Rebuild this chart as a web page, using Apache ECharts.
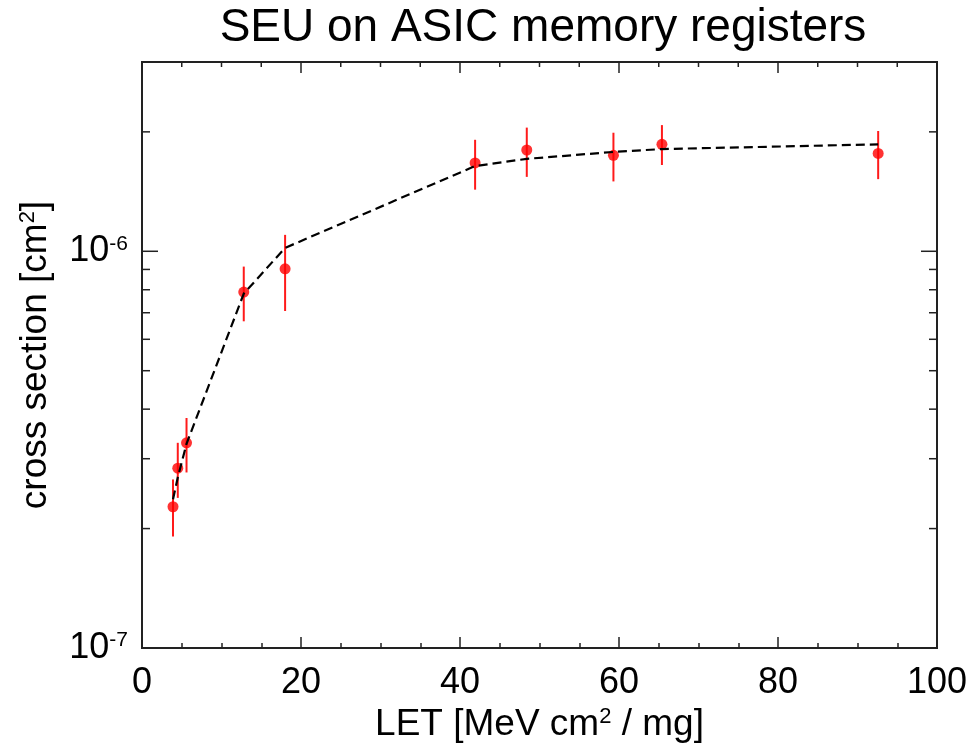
<!DOCTYPE html>
<html>
<head>
<meta charset="utf-8">
<script src="https://cdn.jsdelivr.net/npm/echarts@6/dist/echarts.min.js"></script>
<style>
  html, body { margin: 0; padding: 0; background: #fff; }
  #main { width: 971px; height: 746px; }
</style>
</head>
<body>
<div id="main"></div>
<script>
// LET values of the beam runs [MeV cm2 / mg]
const letVals = [3.9, 4.5, 5.6, 12.8, 18.0, 41.9, 48.4, 59.3, 65.4, 92.6];
// measured cross sections [cm2]
const xsec = [2.27e-7, 2.84e-7, 3.29e-7, 7.89e-7, 9.03e-7, 1.67e-6, 1.80e-6, 1.745e-6, 1.86e-6, 1.765e-6];
// error bar ends
const errLow = [1.91e-7, 2.39e-7, 2.77e-7, 6.66e-7, 7.07e-7, 1.43e-6, 1.54e-6, 1.50e-6, 1.65e-6, 1.52e-6];
const errHigh = [2.66e-7, 3.29e-7, 3.80e-7, 9.15e-7, 1.10e-6, 1.91e-6, 2.05e-6, 1.99e-6, 2.08e-6, 2.01e-6];
// fit evaluated at the same LET values (dashed curve)
const fitVals = [2.37e-7, 2.69e-7, 3.27e-7, 7.82e-7, 1.02e-6, 1.64e-6, 1.71e-6, 1.78e-6, 1.81e-6, 1.86e-6];
// ticks of the log axis
const majorY = [1e-7, 1e-6];
const minorY = [2e-7, 3e-7, 4e-7, 5e-7, 6e-7, 7e-7, 8e-7, 9e-7, 2e-6, 3e-6];
// ticks mirrored on the top frame
const majorX = [0, 20, 40, 60, 80, 100];
const minorX = [5, 10, 15, 25, 30, 35, 45, 50, 55, 65, 70, 75, 85, 90, 95];

const font = '"Liberation Sans", Arial, Helvetica, sans-serif';
const axisCol = '#222';

const chart = echarts.init(document.getElementById('main'));

function logLabel(v) {
  const e = Math.round(Math.log10(v));
  if (Math.abs(v - Math.pow(10, e)) / v > 1e-6) return '';
  return '10{s|' + e + '}';
}

// y ticks inside left and right frame, placed through the log scale
function yTickSeries(vals, len) {
  return {
    type: 'custom', silent: true, z: 5,
    data: vals.map(v => [50, v]),
    renderItem: function (params, api) {
      const y = api.coord([50, api.value(1)])[1];
      const x0 = params.coordSys.x;
      const x1 = params.coordSys.x + params.coordSys.width;
      const st = { stroke: axisCol, lineWidth: 1.5 };
      return {
        type: 'group',
        children: [
          { type: 'line', shape: { x1: x0, y1: y, x2: x0 + len, y2: y }, style: st },
          { type: 'line', shape: { x1: x1 - len, y1: y, x2: x1, y2: y }, style: st }
        ]
      };
    }
  };
}
// x ticks inside the top frame
function xTopTickSeries(vals, len) {
  return {
    type: 'custom', silent: true, z: 5,
    data: vals.map(v => [v, 1e-6]),
    renderItem: function (params, api) {
      const x = api.coord([api.value(0), 1e-6])[0];
      const y0 = params.coordSys.y;
      return {
        type: 'line',
        shape: { x1: x, y1: y0, x2: x, y2: y0 + len },
        style: { stroke: axisCol, lineWidth: 1.5 }
      };
    }
  };
}

const option = {
  animation: false,
  backgroundColor: '#fff',
  title: {
    text: 'SEU on ASIC memory registers',
    left: 538, top: 0, textAlign: 'center',
    textStyle: { fontFamily: font, fontSize: 46, fontWeight: 'normal', color: '#000' }
  },
  grid: {
    left: 142, right: 34, top: 62, bottom: 98, outerBoundsMode: 'none',
    show: true, borderColor: axisCol, borderWidth: 2, backgroundColor: 'transparent'
  },
  xAxis: {
    type: 'value', min: 0, max: 100, interval: 20,
    axisLine: { show: true, lineStyle: { color: axisCol, width: 2 } },
    axisTick: { show: true, inside: true, length: 11, lineStyle: { color: axisCol, width: 1.5 } },
    minorTick: { show: true, splitNumber: 4, length: 5, lineStyle: { color: axisCol, width: 1.5 } },
    splitLine: { show: false },
    name: 'LET [MeV cm{s|2} / mg]',
    nameLocation: 'middle', nameGap: 50,
    nameTextStyle: {
      fontFamily: font, fontSize: 37, color: '#000', verticalAlign: 'top',
      rich: { s: { fontFamily: font, fontSize: 22, color: '#000', verticalAlign: 'top' } }
    },
    axisLabel: { margin: 17, fontFamily: font, fontSize: 36, color: '#000' }
  },
  yAxis: {
    type: 'log', logBase: 10, min: 1e-7, max: 3e-6,
    axisLine: { show: true, lineStyle: { color: axisCol, width: 2 } },
    axisTick: { show: false },
    minorTick: { show: false },
    splitLine: { show: false },
    name: 'cross section [cm{s|2}]',
    nameLocation: 'middle', nameGap: 88, nameRotate: 90,
    nameTextStyle: {
      fontFamily: font, fontSize: 37, color: '#000',
      rich: { s: { fontFamily: font, fontSize: 22, color: '#000', verticalAlign: 'top' } }
    },
    axisLabel: {
      margin: 14, fontFamily: font, fontSize: 36, color: '#000',
      formatter: logLabel,
      rich: { s: { fontFamily: font, fontSize: 21, color: '#000', verticalAlign: 'top', padding: [0, 0, 8, 0] } }
    }
  },
  series: [
    yTickSeries(majorY, 16),
    yTickSeries(minorY, 8),
    xTopTickSeries(majorX, 11),
    xTopTickSeries(minorX, 5),
    {
      // error bars
      type: 'custom',
      z: 2,
      data: letVals.map((x, i) => [x, errLow[i], errHigh[i]]),
      encode: { x: 0, y: [1, 2] },
      renderItem: function (params, api) {
        const lo = api.coord([api.value(0), api.value(1)]);
        const hi = api.coord([api.value(0), api.value(2)]);
        return {
          type: 'line',
          shape: { x1: lo[0], y1: lo[1], x2: hi[0], y2: hi[1] },
          style: { stroke: '#ff1a1a', lineWidth: 2 }
        };
      }
    },
    {
      type: 'scatter',
      z: 3,
      symbol: 'circle', symbolSize: 11,
      itemStyle: { color: '#ff0000' },
      data: letVals.map((x, i) => [x, xsec[i]])
    },
    {
      type: 'line',
      z: 4,
      symbol: 'none',
      lineStyle: { color: '#000', width: 2.2, type: [9, 5] },
      data: letVals.map((x, i) => [x, fitVals[i]])
    }
  ]
};

chart.setOption(option);
</script>
</body>
</html>
